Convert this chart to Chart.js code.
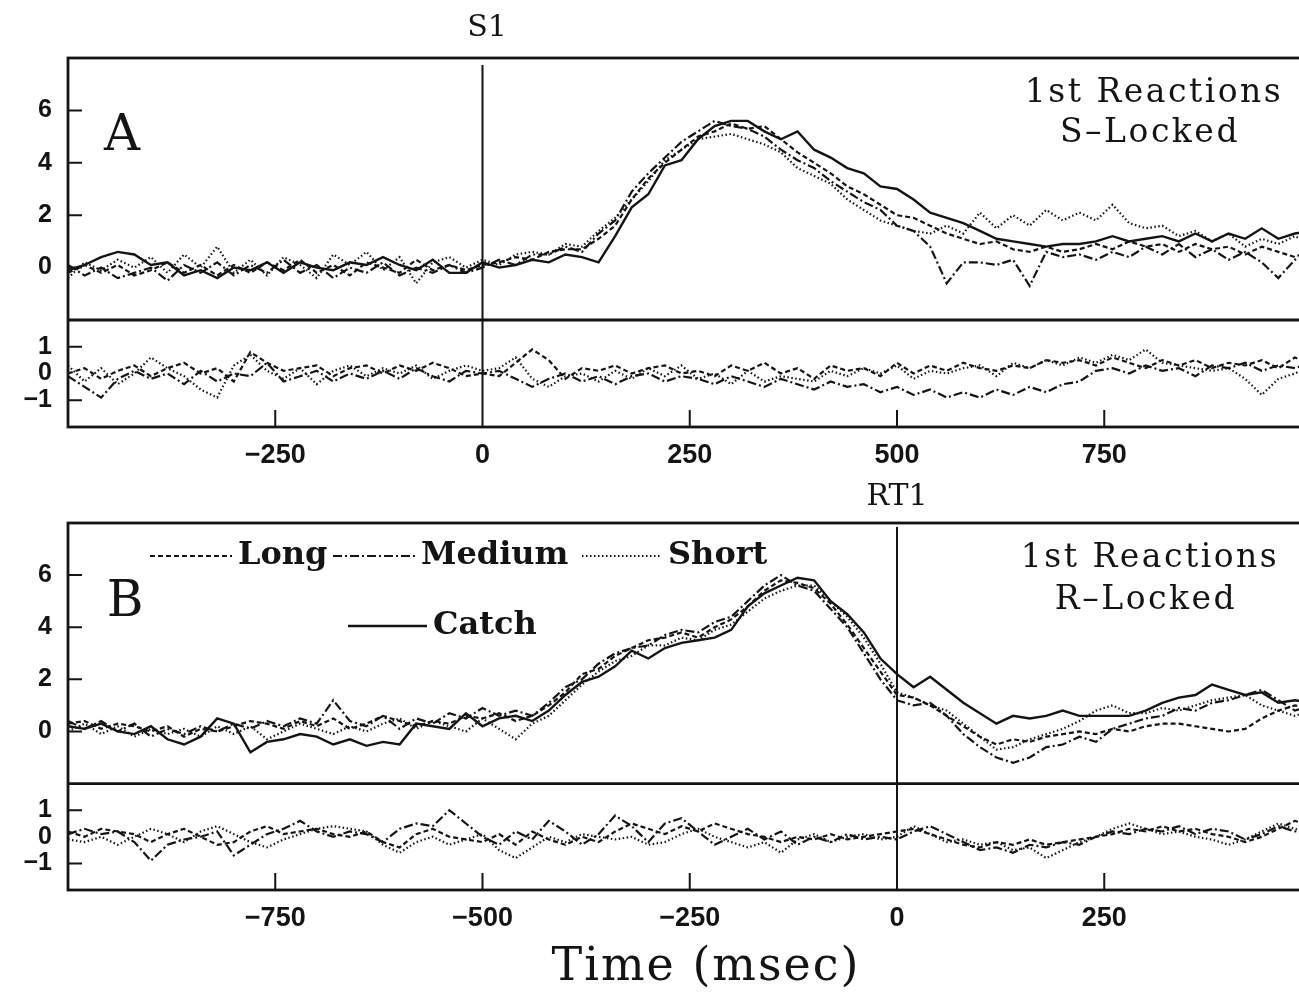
<!DOCTYPE html>
<html>
<head>
<meta charset="utf-8">
<script src="https://cdn.jsdelivr.net/npm/chart.js@4.4.1/dist/chart.umd.min.js"></script>
<style>
  html, body { margin: 0; padding: 0; background: #fff; overflow: hidden; }
  #wrap { position: relative; width: 1299px; height: 993px; overflow: hidden; }
  .panel { position: absolute; left: 0; width: 1330px; }
  #panelA { top: 0; height: 480px; }
  #panelB { top: 480px; height: 513px; }
</style>
</head>
<body>
<div id="wrap">
  <div class="panel" id="panelA"><canvas id="chartA"></canvas></div>
  <div class="panel" id="panelB"><canvas id="chartB"></canvas></div>
</div>

<script>
// ---- data: panel A (stimulus locked), time in msec
const timeA = [-500,-480,-460,-440,-420,-400,-380,-360,-340,-320,-300,-280,-260,-240,-220,-200,-180,-160,-140,-120,
  -100,-80,-60,-40,-20,0,20,40,60,80,100,120,140,160,180,200,220,240,260,280,
  300,320,340,360,380,400,420,440,460,480,500,520,540,560,580,600,620,640,660,680,
  700,720,740,760,780,800,820,840,860,880,900,920,940,960,980,1000];

const longA = [-0.2,0.1,-0.2,0.1,-0.3,-0.1,0.2,-0.2,0.1,-0.3, 0.1,-0.2,0.2,-0.1,0.3,-0.2,0.1,-0.3,0.2,0.0,
  -0.2,0.3,-0.1,0.1,-0.1,0.1,0.2,0.4,0.3,0.6, 0.7,0.7,1.1,1.6,2.6,3.4,4.0,4.5,5.0,5.2,
  5.5,5.3,5.4,4.9,4.4,4.0,3.6,3.1,2.8,2.4, 2.0,1.9,1.6,1.3,1.1,0.9,1.0,0.7,0.6,0.8,
  0.6,0.7,0.9,0.7,1.0,0.8,0.9,0.6,0.9,0.7, 0.8,0.5,0.8,0.6,0.4,0.7];
const mediumA = [0.1,-0.3,0.0,-0.4,-0.2,0.0,-0.5,0.1,-0.2,0.2, -0.3,0.1,-0.2,0.3,-0.2,0.1,-0.4,0.0,-0.2,0.2,
  -0.3,0.0,-0.2,0.1,-0.2,0.0,0.3,0.1,0.5,0.5, 0.8,0.6,1.3,1.8,2.9,3.6,4.2,4.8,5.2,5.6,
  5.4,5.3,5.0,4.5,4.1,3.8,3.3,2.9,2.5,2.2, 1.6,1.4,0.8,-0.6,0.2,0.2,0.1,0.3,-0.7,0.6,
  0.4,0.5,0.3,0.6,0.4,0.8,0.5,0.9,0.4,0.7, 0.3,0.6,0.2,-0.4,0.3,0.5];
const shortA = [-0.4,0.2,-0.1,0.3,0.0,0.4,-0.2,0.5,0.0,0.8, -0.2,0.3,-0.3,0.4,0.1,-0.4,0.5,0.1,0.6,-0.1,
  0.4,-0.6,0.2,0.4,0.0,0.3,0.1,0.5,0.6,0.5, 0.9,0.8,1.4,1.9,2.6,3.3,4.1,4.5,4.9,5.0,
  5.1,4.9,4.7,4.4,3.8,3.5,3.2,2.6,2.2,1.8, 1.6,1.4,1.3,1.6,1.3,2.1,1.5,2.0,1.6,2.2,
  1.8,2.1,1.8,2.4,1.7,1.5,1.6,1.2,1.4,1.0, 1.3,0.8,1.1,0.9,1.2,0.9];
const catchA = [-0.1,0.1,0.4,0.6,0.5,0.1,0.2,-0.3,-0.1,-0.4, 0.0,-0.1,0.2,-0.2,0.2,0.0,-0.1,0.2,0.1,0.4,
  0.1,-0.1,0.3,-0.2,-0.2,0.2,0.0,0.1,0.3,0.2, 0.5,0.4,0.2,1.2,2.3,2.8,3.9,4.1,4.9,5.4,
  5.6,5.6,5.2,4.9,5.2,4.5,4.2,3.8,3.6,3.1, 3.0,2.6,2.1,1.9,1.7,1.4,1.1,1.0,0.9,0.8,
  0.9,0.9,1.0,1.2,1.0,1.1,1.2,1.0,1.3,1.0, 1.3,1.1,1.5,1.1,1.3,1.4];

// lower strip of A: each condition minus Catch
const longDiffA = [0.0,0.2,-0.2,0.1,0.3,-0.1,0.2,0.4,0.0,0.2, -0.3,0.8,0.4,0.1,0.2,0.3,-0.1,0.2,0.3,0.0,
  0.3,0.1,0.4,0.2,-0.1,0.0,-0.1,0.4,0.9,0.5, -0.2,0.2,0.1,0.3,0.0,0.2,0.3,0.0,0.1,-0.1,
  0.3,0.1,0.4,0.0,0.2,-0.2,0.3,0.1,0.2,-0.1, 0.4,0.0,0.3,0.1,0.4,0.2,0.1,0.3,0.2,0.5,
  0.4,0.5,0.3,0.6,0.4,0.2,0.5,0.3,0.5,0.2, 0.4,0.3,0.5,0.2,0.6,0.3];
const mediumDiffA = [-0.1,-0.5,-0.9,-0.2,0.1,-0.2,0.0,-0.4,0.1,-0.3, 0.0,-0.1,0.4,-0.3,-0.1,0.1,-0.3,0.0,-0.2,0.1,
  -0.2,0.2,-0.1,-0.3,0.1,0.0,0.1,-0.2,-0.5,-0.2, 0.0,-0.3,-0.1,-0.4,-0.1,0.0,-0.3,-0.1,-0.2,-0.4,
  -0.1,-0.3,-0.5,-0.2,-0.4,-0.6,-0.3,-0.5,-0.4,-0.7, -0.5,-0.8,-0.6,-0.9,-0.7,-0.9,-0.6,-0.8,-0.5,-0.7,
  -0.4,-0.3,0.1,0.2,0.0,0.3,0.1,0.2,-0.1,0.3, 0.2,0.4,0.1,0.3,0.2,0.4];
const shortDiffA = [0.3,-0.3,0.2,-0.4,0.0,0.6,0.2,-0.1,-0.6,-0.9, 0.3,0.7,0.1,-0.2,0.2,-0.4,0.1,0.3,-0.1,0.2,
  0.0,0.3,-0.2,0.1,0.3,0.1,0.2,0.6,-0.2,-0.5, -0.1,0.0,-0.3,0.1,-0.2,0.2,-0.1,0.3,-0.2,0.0,
  -0.4,0.1,-0.3,-0.1,-0.2,-0.3,0.1,-0.1,0.2,0.0, 0.3,-0.2,0.1,0.0,0.2,0.3,-0.1,0.4,0.2,0.5,
  0.3,0.6,0.4,0.7,0.5,0.9,0.4,0.3,0.2,0.1, 0.2,-0.2,-0.8,-0.2,0.0,0.3];

// ---- data: panel B (response locked)
const timeB = [-1000,-980,-960,-940,-920,-900,-880,-860,-840,-820,-800,-780,-760,-740,-720,-700,-680,-660,-640,-620,
  -600,-580,-560,-540,-520,-500,-480,-460,-440,-420,-400,-380,-360,-340,-320,-300,-280,-260,-240,-220,
  -200,-180,-160,-140,-120,-100,-80,-60,-40,-20,0,20,40,60,80,100,120,140,160,180,
  200,220,240,260,280,300,320,340,360,380,400,420,440,460,480,500];

const longB = [0.3,0.4,0.1,0.3,0.2,0.0,0.2,-0.2,0.1,0.0, 0.2,0.4,0.3,0.1,0.4,0.2,0.5,0.1,0.3,0.6,
  0.4,0.2,0.4,0.3,0.6,0.5,0.7,0.4,0.6,1.0, 1.5,2.2,2.4,2.9,3.2,3.5,3.6,3.8,3.6,4.0,
  4.3,4.8,5.4,5.8,5.7,5.5,4.9,4.1,3.2,2.3, 1.4,1.3,1.0,0.6,0.2,-0.2,-0.5,-0.3,-0.4,-0.2,
  -0.1,0.0,-0.1,0.1,0.0,0.2,0.3,0.3,0.2,0.1, 0.0,0.1,0.5,0.8,1.0,0.9];
const mediumB = [0.4,0.1,0.4,0.0,0.3,-0.2,0.1,-0.1,0.2,0.0, 0.3,0.1,0.4,0.2,0.5,0.3,1.2,0.4,0.2,0.6,
  0.1,0.5,0.3,0.7,0.5,0.9,0.6,0.8,0.6,1.1, 1.7,2.0,2.6,3.0,3.2,3.3,3.7,3.9,3.8,4.2,
  4.4,5.0,5.6,6.0,5.6,5.4,4.7,4.0,3.0,2.0, 1.2,1.0,1.1,0.6,-0.1,-0.6,-1.0,-1.2,-1.0,-0.6,
  -0.5,-0.2,-0.4,0.1,0.3,0.5,0.6,0.9,0.8,1.1, 1.2,1.4,1.6,1.2,0.8,1.0];
const shortB = [0.0,0.3,-0.1,0.2,-0.2,0.1,-0.1,0.1,-0.2,0.2, -0.1,0.2,-0.3,0.0,0.3,0.1,-0.1,0.2,0.0,0.3,
  0.5,0.1,0.4,0.2,0.0,0.5,0.1,-0.3,0.3,0.6, 1.2,1.8,2.3,2.7,2.9,3.3,3.3,3.6,3.5,3.9,
  4.1,4.6,5.1,5.4,5.6,5.6,5.0,4.4,3.6,2.6, 1.5,1.3,1.0,0.8,0.3,-0.2,-0.7,-0.6,-0.3,-0.1,
  0.1,0.4,0.8,1.0,0.7,0.7,0.9,0.8,1.0,1.2, 1.3,1.4,1.0,0.8,0.6,0.8];
const catchB = [0.2,0.1,0.3,0.0,-0.1,0.2,-0.3,-0.5,-0.2,0.5, 0.3,-0.8,-0.4,-0.3,-0.1,-0.2,-0.5,-0.3,-0.55,-0.4,
  -0.5,0.3,0.2,0.1,0.7,0.2,0.5,0.6,0.4,0.8, 1.4,1.9,2.1,2.5,3.1,2.8,3.2,3.4,3.5,3.6,
  3.9,4.8,5.3,5.6,5.9,5.8,5.0,4.5,3.8,2.8, 2.2,1.7,2.1,1.6,1.1,0.7,0.3,0.6,0.5,0.6,
  0.8,0.6,0.6,0.6,0.6,0.8,1.1,1.3,1.4,1.8, 1.6,1.4,1.5,1.1,1.2,1.1];

const longDiffB = [0.2,0.0,0.3,0.2,0.1,-0.2,0.1,0.3,0.0,-0.3, -0.2,0.2,0.4,0.1,0.2,0.3,0.1,0.0,0.2,-0.2,
  -0.4,0.1,0.3,0.0,-0.1,-0.2,0.1,-0.3,0.2,-0.1, -0.3,0.0,-0.2,0.2,0.5,0.3,0.1,0.4,0.2,0.5,
  0.3,0.1,0.0,-0.2,0.0,-0.1,0.1,-0.1,0.0,0.1, 0.2,0.3,0.1,-0.1,-0.3,-0.4,-0.2,-0.3,-0.1,-0.3,
  -0.2,-0.1,0.0,0.1,0.3,0.2,0.4,0.2,0.3,0.1, 0.0,-0.2,0.0,0.3,0.6,0.4];
const mediumDiffB = [0.1,0.3,0.1,0.2,-0.2,-0.9,-0.3,-0.1,0.0,0.2, -0.7,-0.3,0.1,0.3,0.6,0.2,0.0,0.2,0.1,-0.2,
  0.3,0.5,0.4,1.0,0.5,0.0,-0.3,0.2,-0.1,0.6, 0.2,-0.3,0.1,0.8,0.4,-0.2,0.5,0.7,0.2,-0.3,
  0.0,0.3,-0.1,0.2,-0.3,0.0,-0.2,0.1,-0.1,0.0, -0.1,0.2,0.4,0.1,-0.2,-0.5,-0.4,-0.6,-0.3,-0.4,
  -0.2,-0.3,0.0,0.2,0.1,0.3,0.2,0.4,0.1,0.3, 0.2,-0.1,0.1,0.4,0.2,0.3];
const shortDiffB = [-0.1,-0.2,0.0,-0.3,0.0,0.3,0.1,-0.2,0.2,0.4, 0.1,-0.2,-0.4,-0.1,0.1,0.3,0.4,0.3,0.2,-0.3,
  -0.6,-0.2,0.0,-0.3,-0.1,0.1,-0.5,-0.8,-0.4,0.0, -0.2,0.1,0.0,-0.1,0.0,-0.3,-0.2,0.1,0.3,0.0,
  -0.2,-0.4,-0.2,-0.6,-0.1,0.1,-0.2,0.0,0.1,-0.1, 0.0,0.4,0.1,-0.2,-0.1,-0.3,-0.2,-0.5,-0.4,-0.8,
  -0.5,-0.2,0.0,0.3,0.5,0.3,0.1,0.2,0.0,-0.1, -0.3,-0.1,0.2,0.5,0.3,0.1];

// tick labels
const xTicksA = [-250, 0, 250, 500, 750];
const xTicksB = [-750, -500, -250, 0, 250];
const yTicksTop = [0, 2, 4, 6];
const yTicksLow = [-1, 0, 1];

const INK = '#141414';
const SERIF = '"DejaVu Serif", serif';
const SANS = '"Liberation Sans", Arial, sans-serif';

const dashes = { Long: [5, 3], Medium: [9, 3, 2, 3], Short: [1.5, 2.5], Catch: [] };

function pts(t, v) {
  return t.map((x, i) => ({ x: x, y: v[i] }));
}

function line(label, t, v, axis) {
  return {
    label: label,
    data: pts(t, v),
    yAxisID: axis,
    borderColor: INK,
    borderWidth: label === 'Catch' ? 2.4 : 2.2,
    borderDash: dashes[label],
    pointRadius: 0,
    fill: false,
    tension: 0
  };
}

function minus(v) {
  return v < 0 ? '\u2212' + Math.abs(v) : String(v);
}

// frame, divider, inner ticks, event line, text and legend
const decor = {
  id: 'decor',
  afterDatasetsDraw(chart, args, o) {
    const { ctx, chartArea: a } = chart;
    const { x, y, y2 } = chart.scales;
    ctx.save();
    ctx.strokeStyle = INK;
    ctx.setLineDash([]);
    ctx.lineWidth = 2;
    ctx.beginPath();
    yTicksTop.forEach(v => { const p = y.getPixelForValue(v); ctx.moveTo(a.left, p); ctx.lineTo(a.left + 14, p); });
    [-1, 1].forEach(v => { const p = y2.getPixelForValue(v); ctx.moveTo(a.left, p); ctx.lineTo(a.left + 14, p); });
    o.xMarks.forEach(v => { const p = x.getPixelForValue(v); ctx.moveTo(p, a.bottom); ctx.lineTo(p, a.bottom - 17); });
    ctx.stroke();

    const x0 = x.getPixelForValue(0);
    ctx.beginPath();
    ctx.moveTo(x0, a.top + o.zeroGap);
    ctx.lineTo(x0, a.bottom);
    ctx.stroke();

    ctx.lineWidth = 2.8;
    ctx.strokeRect(a.left, a.top, a.right - a.left, a.bottom - a.top);
    ctx.beginPath();
    ctx.moveTo(a.left, y.bottom);
    ctx.lineTo(a.right, y.bottom);
    ctx.stroke();
    ctx.restore();
  },
  afterDraw(chart, args, o) {
    const ctx = chart.ctx;
    ctx.save();
    ctx.fillStyle = INK;
    ctx.textBaseline = 'middle';
    o.texts.forEach(t => {
      ctx.font = t.font;
      ctx.textAlign = t.align || 'center';
      ctx.letterSpacing = (t.ls || 0) + 'px';
      ctx.fillText(t.text, t.x, t.y);
    });
    ctx.letterSpacing = '0px';
    (o.legend || []).forEach(item => {
      const ds = chart.data.datasets.find(d => d.label === item.label && d.yAxisID === 'y');
      ctx.strokeStyle = INK;
      ctx.lineWidth = ds.borderWidth;
      ctx.setLineDash(ds.borderDash);
      ctx.beginPath();
      ctx.moveTo(item.x1, item.y);
      ctx.lineTo(item.x2, item.y);
      ctx.stroke();
      ctx.setLineDash([]);
      ctx.font = 'bold 32px ' + SERIF;
      ctx.textAlign = 'left';
      ctx.fillText(item.label, item.x2 + 6, item.y);
    });
    ctx.restore();
  }
};

function panelConfig(p) {
  return {
    type: 'line',
    data: {
      datasets: [
        line('Long', p.t, p.long, 'y'),
        line('Medium', p.t, p.medium, 'y'),
        line('Short', p.t, p.short, 'y'),
        line('Catch', p.t, p.catchV, 'y'),
        line('Long', p.t, p.longDiff, 'y2'),
        line('Medium', p.t, p.mediumDiff, 'y2'),
        line('Short', p.t, p.shortDiff, 'y2')
      ]
    },
    options: {
      responsive: true,
      maintainAspectRatio: false,
      animation: false,
      layout: { padding: { left: 0, top: p.padTop, right: 18.5, bottom: 0 } },
      plugins: {
        legend: { display: false },
        tooltip: { enabled: false },
        decor: { xMarks: p.xTicks.filter(v => v !== 0), zeroGap: p.zeroGap, texts: p.texts, legend: p.legend }
      },
      scales: {
        x: {
          type: 'linear',
          min: p.xMin,
          max: p.xMax,
          grid: { display: false, drawTicks: false },
          border: { display: false },
          afterBuildTicks: s => { s.ticks = p.xTicks.map(v => ({ value: v })); },
          ticks: { autoSkip: false, maxRotation: 0, padding: 12, color: INK,
                   font: { family: SANS, size: 27, weight: 'bold' }, callback: v => minus(v) },
          afterFit: s => { s.height = p.xHeight; }
        },
        y: {
          stack: 'panel',
          stackWeight: 262,
          weight: 1,
          min: -2,
          max: 8,
          grid: { display: false, drawTicks: false },
          border: { display: false },
          afterBuildTicks: s => { s.ticks = yTicksTop.map(v => ({ value: v })); },
          ticks: { autoSkip: false, padding: 16, color: INK,
                   font: { family: SANS, size: 25, weight: 'bold' }, callback: v => minus(v) },
          afterFit: s => { s.width = 68; }
        },
        y2: {
          stack: 'panel',
          stackWeight: 107,
          weight: 0,
          min: -2,
          max: 2,
          grid: { display: false, drawTicks: false },
          border: { display: false },
          afterBuildTicks: s => { s.ticks = yTicksLow.map(v => ({ value: v })); },
          ticks: { autoSkip: false, padding: 16, color: INK,
                   font: { family: SANS, size: 25, weight: 'bold', lineHeight: 1 }, callback: v => minus(v) },
          afterFit: s => { s.width = 68; }
        }
      }
    },
    plugins: [decor]
  };
}

new Chart(document.getElementById('chartA'), panelConfig({
  t: timeA, long: longA, medium: mediumA, short: shortA, catchV: catchA,
  longDiff: longDiffA, mediumDiff: mediumDiffA, shortDiff: shortDiffA,
  xMin: -500, xMax: 1000, xTicks: xTicksA, padTop: 58, xHeight: 53, zeroGap: 7,
  texts: [
    { text: 'S1', x: 487, y: 28, font: '30px ' + SERIF },
    { text: 'A', x: 122, y: 137, font: '50px ' + SERIF },
    { text: '1st Reactions', x: 1154, y: 93, font: '33px ' + SERIF, ls: 2.5 },
    { text: 'S\u2013Locked', x: 1150, y: 133, font: '33px ' + SERIF, ls: 2.5 }
  ]
}));

new Chart(document.getElementById('chartB'), panelConfig({
  t: timeB, long: longB, medium: mediumB, short: shortB, catchV: catchB,
  longDiff: longDiffB, mediumDiff: mediumDiffB, shortDiff: shortDiffB,
  xMin: -1000, xMax: 500, xTicks: xTicksB, padTop: 43, xHeight: 103, zeroGap: 4,
  texts: [
    { text: 'RT1', x: 897, y: 17, font: '30px ' + SERIF },
    { text: 'B', x: 125, y: 123, font: '50px ' + SERIF },
    { text: '1st Reactions', x: 1150, y: 78, font: '33px ' + SERIF, ls: 2.5 },
    { text: 'R\u2013Locked', x: 1146, y: 120, font: '33px ' + SERIF, ls: 2.5 },
    { text: 'Time (msec)', x: 706, y: 488, font: '46px ' + SERIF, ls: 2 }
  ],
  legend: [
    { label: 'Long', x1: 150, x2: 232, y: 76 },
    { label: 'Medium', x1: 333, x2: 415, y: 76 },
    { label: 'Short', x1: 582, x2: 662, y: 76 },
    { label: 'Catch', x1: 348, x2: 427, y: 146 }
  ]
}));
</script>
</body>
</html>
